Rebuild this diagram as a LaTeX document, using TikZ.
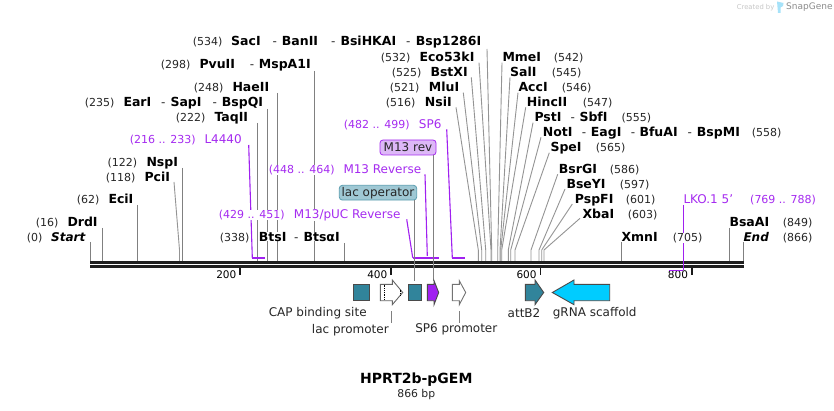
\documentclass[tikz,border=0pt]{standalone}
\usepackage{fontspec}
\setmainfont{DejaVu Sans}
\definecolor{labpurple}{HTML}{A52BF0}
\definecolor{mainpurple}{HTML}{A020F0}
\definecolor{teal}{HTML}{31849B}
\definecolor{cyanfeat}{HTML}{00CCFF}
\definecolor{opfill}{HTML}{9FC8D4}
\definecolor{revfill}{HTML}{DDB8F7}
\definecolor{edgegrey}{HTML}{4A4A4A}
\tikzset{
  txt/.style={anchor=base west,inner sep=0pt,fill=white,font=\fontsize{12}{14}\selectfont,text=black!85},
  num/.style={txt,font=\fontsize{11}{13}\selectfont},
  enz/.style={txt,font=\fontsize{12.5}{14}\selectfont\bfseries,text=black},
  endz/.style={txt,font=\fontsize{12}{14}\selectfont\bfseries\itshape,text=black},
  plab/.style={txt,text=labpurple},
  pnum/.style={txt,text=labpurple,font=\fontsize{11}{13}\selectfont},
  cutline/.style={draw=black!50,line width=0.9pt},
  fan/.style={draw=black!42,line width=0.9pt},
  primer/.style={draw=mainpurple,line width=1.1pt},
  primerbar/.style={draw=mainpurple,line width=1.7pt},
  feat/.style={draw=edgegrey,line width=0.9pt},
  flab/.style={inner sep=0pt,font=\fontsize{12}{14}\selectfont,text=black!85},
  pill/.style={rounded corners=3pt,line width=0.8pt},
  tick/.style={draw=black!90,line width=1.6pt},
  ticklab/.style={anchor=base east,inner sep=0pt,font=\fontsize{10.5}{12}\selectfont,text=black}
}
\begin{document}
\begin{tikzpicture}[x=1pt,y=-1pt]
\useasboundingbox (0,0) rectangle (834,411);
\fill[white] (0,0) rectangle (834,411);

% straight cut lines: x / top
\foreach \x/\t [count=\i] in {90/242,102.5/228,137/205,182.5/168,257/123,267/109,277.5/93,314/71,344.5/243,621.3/242,729.3/228,743.3/242}{
  \coordinate (st\i) at (\x,\t); \coordinate (sb\i) at (\x,261);
  \path[cutline] (st\i) -- (sb\i);
}
% bent cut lines: top x / top y / bend x
\foreach \x/\t/\b [count=\i] in {174/182/179.5,456/107.3/478.3,463.3/92.7/481.7,471.3/77.3/485.7,479/62.7/491,487/49/491.7,502/62.7/497.7,510/77.3/500,518/92.7/500.7,525.7/107.3/501.7,533/122.7/508.3,541/137.3/510.7,549.3/152.7/515,557.7/174.3/531,565/189/539,572.3/204/541.7,580/218.3/544}{
  \coordinate (ft\i) at (\x,\t); \coordinate (fm\i) at (\b,250); \coordinate (fb\i) at (\b,261);
  \path[fan] (ft\i) -- (fm\i) -- (fb\i);
}

% primers
\coordinate (l1) at (248.7,145); \coordinate (l2) at (252.3,257.7); \coordinate (l3) at (265,257.7);
\draw[primer] (l1) -- (l2); \draw[primerbar] (l2) -- (l3);
\coordinate (m1) at (406.7,219.3); \coordinate (m2) at (412.7,257.7); \coordinate (m3) at (439,257.7);
\draw[primer] (m1) -- (m2); \draw[primerbar] (m2) -- (m3);
\coordinate (r1) at (425,174.3); \coordinate (r2) at (427.3,256);
\draw[primer] (r1) -- (r2);
\coordinate (s1) at (446.7,129.3); \coordinate (s2) at (452.3,257.7); \coordinate (s3) at (465,257.7);
\draw[primer] (s1) -- (s2); \draw[primerbar] (s2) -- (s3);

% backbone
\fill[black!88] (90,261) rectangle (744,264.2);
\fill[black!88] (90,265.2) rectangle (744,268);

% ticks
\foreach \x/\n [count=\i] in {240/200,391/400,540.3/600,691.7/800}{
  \coordinate (ta\i) at (\x,268); \coordinate (tb\i) at (\x,275);
  \draw[tick] (ta\i) -- (tb\i);
  \node[ticklab] (tl\i) at (\x-3.5,278) {\n};
}

% LKO primer
\coordinate (k1) at (683.3,205); \coordinate (k2) at (683.3,270.5); \coordinate (k3) at (669.3,270.5);
\draw[primer] (k1) -- (k2); \draw[primerbar] (k2) -- (k3);

% binding-site stems
\node[draw=labpurple,fill=revfill,pill,inner sep=0pt,minimum width=56pt,minimum height=15pt,font=\fontsize{12}{14}\selectfont,text=black!85] (mrev) at (408,147.5) {M13 rev};
\node[draw=teal!80,fill=opfill,pill,inner sep=0pt,minimum width=77.4pt,minimum height=14.7pt,font=\fontsize{12}{14}\selectfont,text=black!85] (lacop) at (378,192.7) {lac operator};
\coordinate (mrevb) at (433.3,155); \coordinate (mrevc) at (433.3,280.5);
\coordinate (lacb) at (414.3,200); \coordinate (lacc) at (414.3,280.7);
\draw[cutline] (mrevb) -- (mrevc);
\draw[cutline] (lacb) -- (lacc);

% digit labels
\foreach \x/\y/\t [count=\i] in {
192.7/46/(534),160.7/68.3/(298),193.7/91.3/(248),84.7/106.3/(235),175.7/121.3/(222),
107.3/166.3/(122),105.7/181.3/(118),76.7/203.3/(62),35.7/226.3/(16),26.7/241.3/(0),219.7/241.3/(338),
380.7/61.3/(532),391.7/76.3/(525),389.7/91.3/(521),385.7/106.3/(516),
553.7/61.3/(542),551.7/76.3/(545),561.7/91.3/(546),582.7/106.3/(547),621.3/121.3/(555),751.7/136.3/(558),595.7/151.3/(565),
609.7/173.3/(586),619.7/188.3/(597),625.7/203.3/(601),627.7/218.3/(603),672.7/241.3/(705),782.7/226.3/(849),782.7/241.3/(866)}{
  \node[num] (d\i) at (\x,\y) {\t};
}
% enzyme labels
\foreach \x/\y/\t [count=\i] in {
231/46/SacI,281.7/46/BanII,340.3/46/BsiHKAI,415.7/46/Bsp1286I,
199.3/68.3/PvuII,258.7/68.3/MspA1I,232.3/91.3/HaeII,
123.3/106.3/EarI,170.3/106.3/SapI,221.7/106.3/BspQI,214.3/121.3/TaqII,
146.3/166.3/NspI,144.3/181.3/PciI,108.3/203.3/EciI,67.3/226.3/DrdI,
258.7/241.3/BtsI,303.3/241.3/BtsαI,
419.3/61.3/Eco53kI,430.3/76.3/BstXI,428.7/91.3/MluI,424.7/106.3/NsiI,
502.3/61.3/MmeI,510/76.3/SalI,518.3/91.3/AccI,526.7/106.3/HincII,
534.3/121.3/PstI,579.3/121.3/SbfI,
542.7/136.3/NotI,590.7/136.3/EagI,639.3/136.3/BfuAI,696.7/136.3/BspMI,
550.3/151.3/SpeI,558.7/173.3/BsrGI,566.3/188.3/BseYI,574.7/203.3/PspFI,582.3/218.3/XbaI,
621.3/241.3/XmnI,729.3/226.3/BsaAI}{
  \node[enz] (e\i) at (\x,\y) {\t};
}
% separators
\foreach \x/\y [count=\i] in {272.3/46,331/46,406/46,249.7/68.3,161/106.3,212.3/106.3,294/241.3,570.3/121.3,581.7/136.3,630.7/136.3,687.3/136.3}{
  \node[txt] (sep\i) at (\x,\y) {-};
}
\node[endz] (start) at (51,241.3) {Start};
\node[endz] (endl) at (743.3,241.3) {End};

% primer labels
\foreach \x/\y/\t [count=\i] in {
204.3/143.3/L4440,343.3/173.3/M13 Reverse,293.7/218.3/{M13/pUC Reverse},418.7/128.3/SP6,683.3/203.3/{LKO.1 5'}}{
  \node[plab] (p\i) at (\x,\y) {\t};
}
\foreach \x/\y/\t [count=\i] in {
129.7/143.3/(216 .. 233),268.7/173.3/(448 .. 464),218.7/218.3/(429 .. 451),343.7/128.3/(482 .. 499),750/203.3/(769 .. 788)}{
  \node[pnum] (pn\i) at (\x,\y) {\t};
}

% features
\draw[feat,fill=teal] (353.3,284.3) rectangle (369.7,300.7);
\draw[feat,fill=white,draw=black!60] (380.3,284.3) -- (392.3,284.3) -- (392.3,280) -- (402.7,292.5) -- (392.3,304.7) -- (392.3,300.7) -- (380.3,300.7) -- cycle;
\draw[black,line width=0.8pt,densely dotted] (384.3,284.5) -- (384.3,300.5);
\draw[black,line width=0.8pt,densely dotted] (400,289.5) -- (400,295.5);
\draw[feat,fill=teal] (408.3,284.3) rectangle (421.7,300.7);
\draw[feat,fill=mainpurple] (427.3,284.3) -- (434,284.3) -- (434,280.7) -- (438.7,292.5) -- (434,304.7) -- (434,300.7) -- (427.3,300.7) -- cycle;
\draw[feat,fill=white,draw=black!55] (452.3,284.3) -- (459.3,284.3) -- (459.3,280.7) -- (465.7,292.5) -- (459.3,304.7) -- (459.3,300.7) -- (452.3,300.7) -- cycle;
\draw[feat,fill=teal] (525.3,284.3) -- (535,284.3) -- (535,280) -- (543.7,292.5) -- (535,304.7) -- (535,300.7) -- (525.3,300.7) -- cycle;
\draw[feat,fill=cyanfeat] (609.7,284.3) -- (574,284.3) -- (574,280) -- (552.3,292.5) -- (574,304.7) -- (574,300.7) -- (609.7,300.7) -- cycle;

% feature labels
\node[flab] (f1) at (317.7,313.3) {CAP binding site};
\node[flab] (f2) at (350.3,329.7) {lac promoter};
\node[flab] (f3) at (456.3,329.7) {SP6 promoter};
\node[flab] (f4) at (524,313.3) {attB2};
\node[flab] (f5) at (594.7,313.3) {gRNA scaffold};
\coordinate (q1) at (391.3,311); \coordinate (q2) at (391.3,322.7);
\coordinate (q3) at (459.3,311); \coordinate (q4) at (459.3,322.7);
\draw[cutline] (q1) -- (q2);
\draw[cutline] (q3) -- (q4);

% title
\node[inner sep=0pt,font=\fontsize{14}{16}\selectfont\bfseries,text=black] (title) at (416.3,380) {HPRT2b-pGEM};
\node[inner sep=0pt,font=\fontsize{10.8}{12}\selectfont,text=black!85] (size) at (416.3,395) {866 bp};

% logo
\node[anchor=west,inner sep=0pt,font=\fontsize{6.8}{8}\selectfont,text=black!22] (cb) at (736.7,7.6) {Created by};
\node[anchor=west,inner sep=0pt,font=\fontsize{9}{10}\selectfont,text=black!45] (sg) at (786,7.6) {SnapGene};
\fill[cyan!35] (777,1.5) -- (783.5,3) -- (783,6) -- (780.5,7.5) -- (780.5,13) -- (778,13) -- cycle;
\end{tikzpicture}
\end{document}
